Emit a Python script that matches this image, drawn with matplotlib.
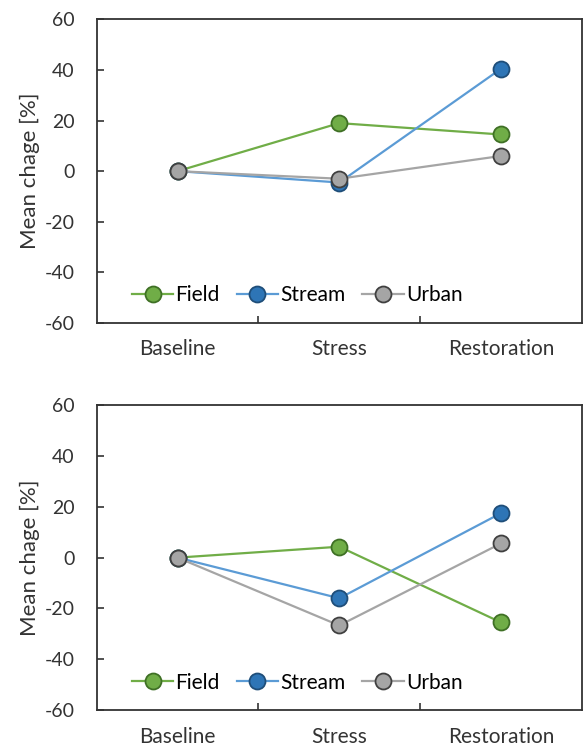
import matplotlib.pyplot as plt
from matplotlib.ticker import FixedLocator

plt.rcParams['font.family'] = ['Lato', 'DejaVu Sans']
plt.rcParams['axes.unicode_minus'] = False

phases = ['Baseline', 'Stress', 'Restoration']
series = ['Field', 'Stream', 'Urban']

# top panel
top_field = [0, 19, 14.5]
top_stream = [0, -4.5, 40.5]
top_urban = [0, -3, 6]

# bottom panel
bot_field = [0, 4.3, -25.5]
bot_stream = [0, -16, 17.5]
bot_urban = [0, -26.7, 5.6]

line_col = {'Field': '#70AD47', 'Stream': '#5B9BD5', 'Urban': '#A5A5A5'}
face_col = {'Field': '#70AD47', 'Stream': '#2E75B6', 'Urban': '#A5A5A5'}
edge_col = {'Field': '#3F7025', 'Stream': '#1F4E79', 'Urban': '#404040'}

fig = plt.figure(figsize=(5.83, 7.49), dpi=100)
ax1 = fig.add_axes([0.166, 0.569, 0.832, 0.405])
ax2 = fig.add_axes([0.166, 0.052, 0.832, 0.407])

x = list(range(len(phases)))

for ax, data in [(ax1, [top_field, top_stream, top_urban]),
                 (ax2, [bot_field, bot_stream, bot_urban])]:
    for name, vals in zip(series, data):
        ax.plot(x, vals, color=line_col[name], lw=1.6, marker='o', ms=11.5,
                mfc=face_col[name], mec=edge_col[name], mew=1.3, label=name)
    ax.set_xlim(-0.5, 2.5)
    ax.set_ylim(-60, 60)
    ax.set_yticks(range(-60, 61, 20))
    ax.set_xticks(x)
    ax.set_xticklabels(phases)
    ax.xaxis.set_minor_locator(FixedLocator([0.5, 1.5]))
    ax.tick_params(axis='x', which='major', length=0, pad=12, labelsize=15,
                   colors='#333333')
    ax.tick_params(axis='x', which='minor', direction='in', length=5,
                   width=1.2, color='#333333')
    ax.tick_params(axis='y', direction='in', length=5, width=1.2,
                   labelsize=14, colors='#333333', pad=16)
    for s in ax.spines.values():
        s.set_linewidth(1.3)
        s.set_color('#333333')
    ax.set_ylabel('Mean chage [%]', fontsize=16, color='#333333', labelpad=3)
    ax.legend(loc='lower left', bbox_to_anchor=(0.055, 0.03), ncol=3,
              frameon=False, fontsize=15, handlelength=2.0,
              handletextpad=0.1, columnspacing=0.8, borderaxespad=0)

fig.savefig('out.png', dpi=100)
